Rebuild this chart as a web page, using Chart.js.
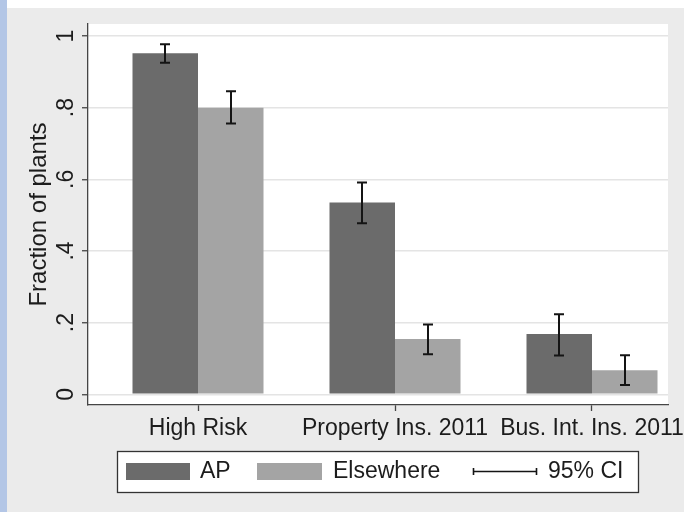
<!DOCTYPE html>
<html>
<head>
<meta charset="utf-8">
<script src="https://cdn.jsdelivr.net/npm/chart.js@4.4.1/dist/chart.umd.min.js"></script>
<style>
  html, body { margin: 0; padding: 0; background: #ebebeb; }
  #wrap { width: 684px; height: 512px; }
</style>
</head>
<body>
<div id="wrap"><canvas id="c" width="684" height="512"></canvas></div>
<script>
// Share of plants by group, with 95% confidence intervals
const categories = ['High Risk', 'Property Ins. 2011', 'Bus. Int. Ins. 2011'];
const apShare = [0.952, 0.535, 0.168];
const apLow = [0.925, 0.477, 0.108];
const apHigh = [0.977, 0.591, 0.223];
const elsewhereShare = [0.800, 0.154, 0.067];
const elsewhereLow = [0.756, 0.112, 0.026];
const elsewhereHigh = [0.846, 0.195, 0.109];
const yTickValues = [0, 0.2, 0.4, 0.6, 0.8, 1];
const yTickLabels = ['0', '.2', '.4', '.6', '.8', '1'];

const FONT = 'Liberation Sans';
const TEXT = '#1c1c1c';
const AXIS = '#454545';
const AP_COLOR = '#6b6b6b';
const ELSE_COLOR = '#a4a4a4';

const intervals = [
  { low: apLow, high: apHigh },
  { low: elsewhereLow, high: elsewhereHigh }
];

// Page frame and white plot region
const backdrop = {
  id: 'backdrop',
  beforeDraw(chart) {
    const { ctx, chartArea: a } = chart;
    ctx.save();
    ctx.fillStyle = '#ebebeb';
    ctx.fillRect(0, 0, chart.width, chart.height);
    ctx.fillStyle = '#ffffff';
    ctx.fillRect(0, 0, chart.width, 8);
    ctx.fillStyle = '#b3c6e6';
    ctx.fillRect(0, 0, 7, chart.height);
    ctx.fillStyle = '#ffffff';
    ctx.fillRect(a.left, a.top, a.right - a.left, a.bottom - a.top);
    ctx.restore();
  }
};

// Capped whiskers for the confidence intervals
const errorBars = {
  id: 'errorBars',
  afterDatasetsDraw(chart) {
    const { ctx } = chart;
    const ys = chart.scales.y;
    ctx.save();
    ctx.strokeStyle = '#141414';
    ctx.lineWidth = 2;
    intervals.forEach((ci, di) => {
      const meta = chart.getDatasetMeta(di);
      meta.data.forEach((bar, i) => {
        const x = Math.round(bar.x);
        const yl = ys.getPixelForValue(ci.low[i]);
        const yh = ys.getPixelForValue(ci.high[i]);
        ctx.beginPath();
        ctx.moveTo(x, yl); ctx.lineTo(x, yh);
        ctx.moveTo(x - 5, yl); ctx.lineTo(x + 5, yl);
        ctx.moveTo(x - 5, yh); ctx.lineTo(x + 5, yh);
        ctx.stroke();
      });
    });
    ctx.restore();
  }
};

// Boxed legend below the axis
const legendBox = {
  id: 'legendBox',
  afterDraw(chart) {
    const { ctx } = chart;
    const ds = chart.data.datasets;
    ctx.save();
    ctx.fillStyle = '#ffffff';
    ctx.fillRect(117, 451, 521, 41);
    ctx.strokeStyle = '#333333';
    ctx.lineWidth = 1.3;
    ctx.strokeRect(117.5, 451.5, 521, 41);

    ctx.fillStyle = ds[0].backgroundColor;
    ctx.fillRect(126, 463, 64, 17);
    ctx.fillStyle = ds[1].backgroundColor;
    ctx.fillRect(257, 463, 65, 17);

    ctx.strokeStyle = '#141414';
    ctx.lineWidth = 1.6;
    ctx.beginPath();
    ctx.moveTo(473, 471.5); ctx.lineTo(537, 471.5);
    ctx.moveTo(473.5, 468); ctx.lineTo(473.5, 475);
    ctx.moveTo(536.5, 468); ctx.lineTo(536.5, 475);
    ctx.stroke();

    ctx.fillStyle = TEXT;
    ctx.font = '23px "' + FONT + '"';
    ctx.textBaseline = 'middle';
    ctx.textAlign = 'left';
    ctx.fillText(ds[0].label, 200, 472);
    ctx.fillText(ds[1].label, 333, 472);
    ctx.fillText('95% CI', 548, 472);
    ctx.restore();
  }
};

new Chart(document.getElementById('c'), {
  type: 'bar',
  data: {
    datasets: [
      {
        label: 'AP',
        data: apShare.map((v, i) => ({ x: i + 1, y: v })),
        backgroundColor: AP_COLOR,
        borderWidth: 0
      },
      {
        label: 'Elsewhere',
        data: elsewhereShare.map((v, i) => ({ x: i + 1, y: v })),
        backgroundColor: ELSE_COLOR,
        borderWidth: 0
      }
    ]
  },
  options: {
    responsive: false,
    animation: false,
    events: [],
    categoryPercentage: 0.665,
    barPercentage: 1.0,
    layout: { padding: { left: 0, right: 16, top: 24, bottom: 0 } },
    plugins: {
      legend: { display: false },
      tooltip: { enabled: false }
    },
    scales: {
      x: {
        type: 'linear',
        offset: false,
        bounds: 'data',
        min: 0.4416,
        max: 3.3858,
        afterBuildTicks: s => { s.ticks = categories.map((_, i) => ({ value: i + 1 })); },
        afterFit: s => { s.height = 107; s.paddingLeft = 0; s.paddingRight = 0; },
        grid: { offset: false, drawOnChartArea: false, drawTicks: true, tickLength: 6, tickColor: AXIS, tickWidth: 1.3 },
        border: { display: true, color: AXIS, width: 1.3 },
        ticks: {
          autoSkip: false, minRotation: 0, maxRotation: 0, padding: 4,
          color: TEXT, font: { family: FONT, size: 23 },
          callback: (v, i) => categories[i]
        }
      },
      y: {
        min: -0.03,
        max: 1.0335,
        afterBuildTicks: s => { s.ticks = yTickValues.map(v => ({ value: v })); },
        afterFit: s => { s.width = 88; },
        grid: { color: '#e4e4e4', lineWidth: 1.5, drawTicks: true, tickLength: 6, tickColor: AXIS, tickWidth: 1.3 },
        border: { display: true, color: AXIS, width: 1.3 },
        ticks: {
          minRotation: 90, maxRotation: 90, crossAlign: 'center', padding: 6,
          color: TEXT, font: { family: FONT, size: 23 },
          callback: (v, i) => yTickLabels[i]
        },
        title: {
          display: true, text: 'Fraction of plants', color: TEXT,
          font: { family: FONT, size: 24 }, padding: { top: 25, bottom: 0 }
        }
      }
    }
  },
  plugins: [backdrop, errorBars, legendBox]
});
</script>
</body>
</html>
